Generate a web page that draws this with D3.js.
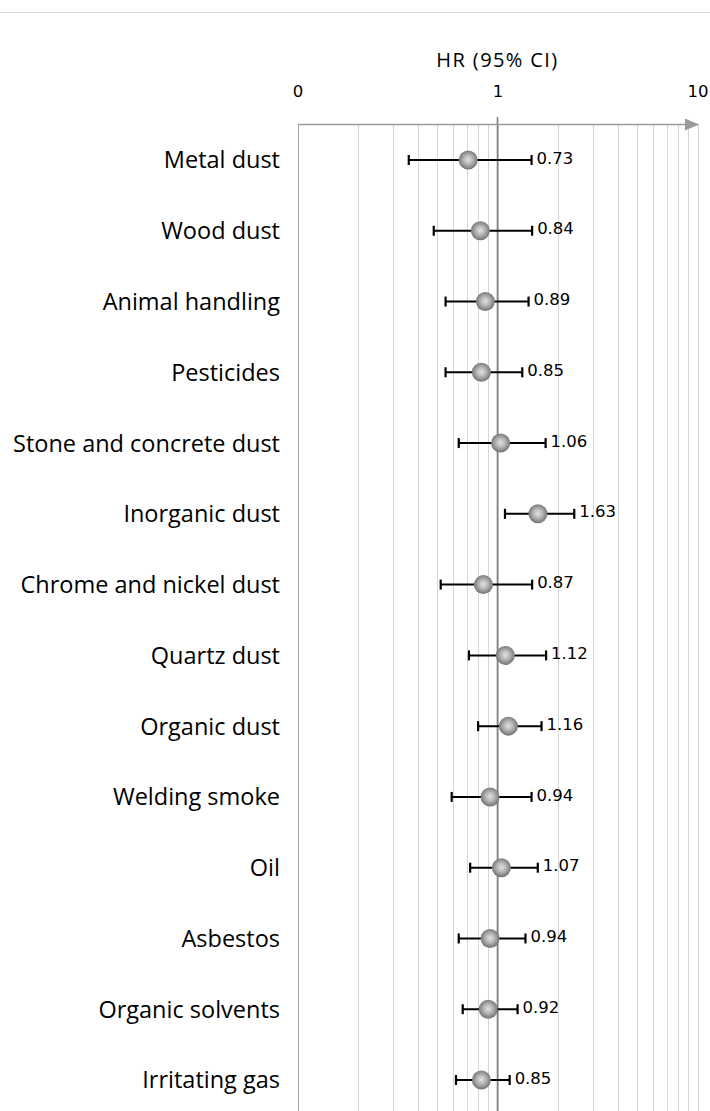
<!DOCTYPE html>
<html>
<head>
<meta charset="utf-8">
<script src="https://cdn.jsdelivr.net/npm/d3@7"></script>
<style>
  html, body { margin: 0; padding: 0; background: #fff; }
  svg { display: block; }
  .cat { font-family: "Open Sans", sans-serif; font-size: 23.5px; fill: #000; }
  .val { font-family: "DejaVu Sans", Verdana, sans-serif; font-size: 16.5px; fill: #000; }
  .tick text { font-family: "DejaVu Sans", Verdana, sans-serif; font-size: 16.5px; fill: #000; }
  .title { font-family: "Open Sans", sans-serif; font-size: 20px; letter-spacing: 1.4px; fill: #000; }
</style>
</head>
<body>
<div id="chart"></div>
<script>
// exposures, top to bottom
const categories = ['Metal dust', 'Wood dust', 'Animal handling', 'Pesticides',
  'Stone and concrete dust', 'Inorganic dust', 'Chrome and nickel dust', 'Quartz dust',
  'Organic dust', 'Welding smoke', 'Oil', 'Asbestos', 'Organic solvents', 'Irritating gas'];

// hazard ratios and 95% CI bounds
const hr    = [0.73, 0.84, 0.89, 0.85, 1.06, 1.63, 0.87, 1.12, 1.16, 0.94, 1.07, 0.94, 0.92, 0.85];
const lower = [0.36, 0.48, 0.55, 0.55, 0.64, 1.09, 0.52, 0.72, 0.80, 0.59, 0.73, 0.64, 0.67, 0.62];
const upper = [1.48, 1.49, 1.43, 1.33, 1.74, 2.42, 1.49, 1.75, 1.66, 1.48, 1.59, 1.38, 1.26, 1.15];

const tickValues = [0.1, 1, 10];
const tickLabels = ['0', '1', '10'];
const axisTitle = 'HR (95% CI)';

const width = 710, height = 1111;

const data = categories.map((c, i) => ({ name: c, hr: hr[i], lo: lower[i], hi: upper[i] }));

const svg = d3.select('#chart').append('svg')
  .attr('width', width)
  .attr('height', height);

const defs = svg.append('defs');
const grad = defs.append('radialGradient')
  .attr('id', 'ball')
  .attr('cx', '50%').attr('cy', '48%').attr('r', '55%');
grad.append('stop').attr('offset', '0%').attr('stop-color', '#e4e4e4');
grad.append('stop').attr('offset', '45%').attr('stop-color', '#b4b4b4');
grad.append('stop').attr('offset', '100%').attr('stop-color', '#6a6a6a');

defs.append('marker')
  .attr('id', 'arrow')
  .attr('viewBox', '0 0 14 12')
  .attr('refX', 13).attr('refY', 6)
  .attr('markerUnits', 'userSpaceOnUse')
  .attr('markerWidth', 14).attr('markerHeight', 12)
  .attr('orient', 'auto')
  .append('path')
  .attr('d', 'M0,0 L14,6 L0,12 Z')
  .attr('fill', '#9a9a9a');

const x = d3.scaleLog()
  .domain([0.1, 10])
  .range([297.5, 697.5]);

const y = d3.scalePoint()
  .domain(categories)
  .range([160, 1080]);

const axisY = 124;

// chart border at the top
svg.append('line')
  .attr('x1', 0).attr('x2', width)
  .attr('y1', 12.5).attr('y2', 12.5)
  .attr('stroke', '#dcdcdc');

// vertical grid (log minor ticks)
svg.append('g')
  .selectAll('line')
  .data(x.ticks())
  .enter().append('line')
  .attr('x1', d => Math.round(x(d)) + 0.5)
  .attr('x2', d => Math.round(x(d)) + 0.5)
  .attr('y1', axisY)
  .attr('y2', height)
  .attr('stroke', d => d === 0.1 ? '#a6a6a6' : '#d6d6d6')
  .attr('stroke-width', 1);

// reference line at HR = 1
svg.append('line')
  .attr('x1', x(1)).attr('x2', x(1))
  .attr('y1', axisY - 7).attr('y2', height)
  .attr('stroke', '#7f7f7f')
  .attr('stroke-width', 1.6);

// top axis
const xAxis = d3.axisTop(x)
  .tickValues(tickValues)
  .tickFormat((d, i) => tickLabels[i])
  .tickSize(0)
  .tickPadding(27);

const gAxis = svg.append('g')
  .attr('transform', 'translate(0,' + axisY + ')')
  .call(xAxis);

gAxis.select('.domain')
  .attr('stroke', '#9a9a9a')
  .attr('stroke-width', 1.6)
  .attr('marker-end', 'url(#arrow)');

svg.append('text')
  .attr('class', 'title')
  .attr('x', x(1))
  .attr('y', 67)
  .attr('text-anchor', 'middle')
  .text(axisTitle);

// category labels
svg.append('g')
  .selectAll('text')
  .data(data)
  .enter().append('text')
  .attr('class', 'cat')
  .attr('x', 280)
  .attr('y', d => y(d.name))
  .attr('dy', '0.36em')
  .attr('text-anchor', 'end')
  .text(d => d.name);

const rows = svg.append('g')
  .selectAll('g')
  .data(data)
  .enter().append('g')
  .attr('transform', d => 'translate(0,' + y(d.name) + ')');

// error bars
rows.append('line')
  .attr('x1', d => x(d.lo))
  .attr('x2', d => x(d.hi))
  .attr('stroke', '#000')
  .attr('stroke-width', 2);

rows.append('line')
  .attr('x1', d => x(d.lo)).attr('x2', d => x(d.lo))
  .attr('y1', -5).attr('y2', 5)
  .attr('stroke', '#000')
  .attr('stroke-width', 2.2);

rows.append('line')
  .attr('x1', d => x(d.hi)).attr('x2', d => x(d.hi))
  .attr('y1', -5).attr('y2', 5)
  .attr('stroke', '#000')
  .attr('stroke-width', 2.2);

// points
rows.append('circle')
  .attr('cx', d => x(d.hr) - 2)
  .attr('r', 9.5)
  .attr('fill', 'url(#ball)');

// value labels
rows.append('text')
  .attr('class', 'val')
  .attr('x', d => x(d.hi) + 5)
  .attr('dy', '0.22em')
  .text(d => d.hr.toFixed(2));
</script>
</body>
</html>
